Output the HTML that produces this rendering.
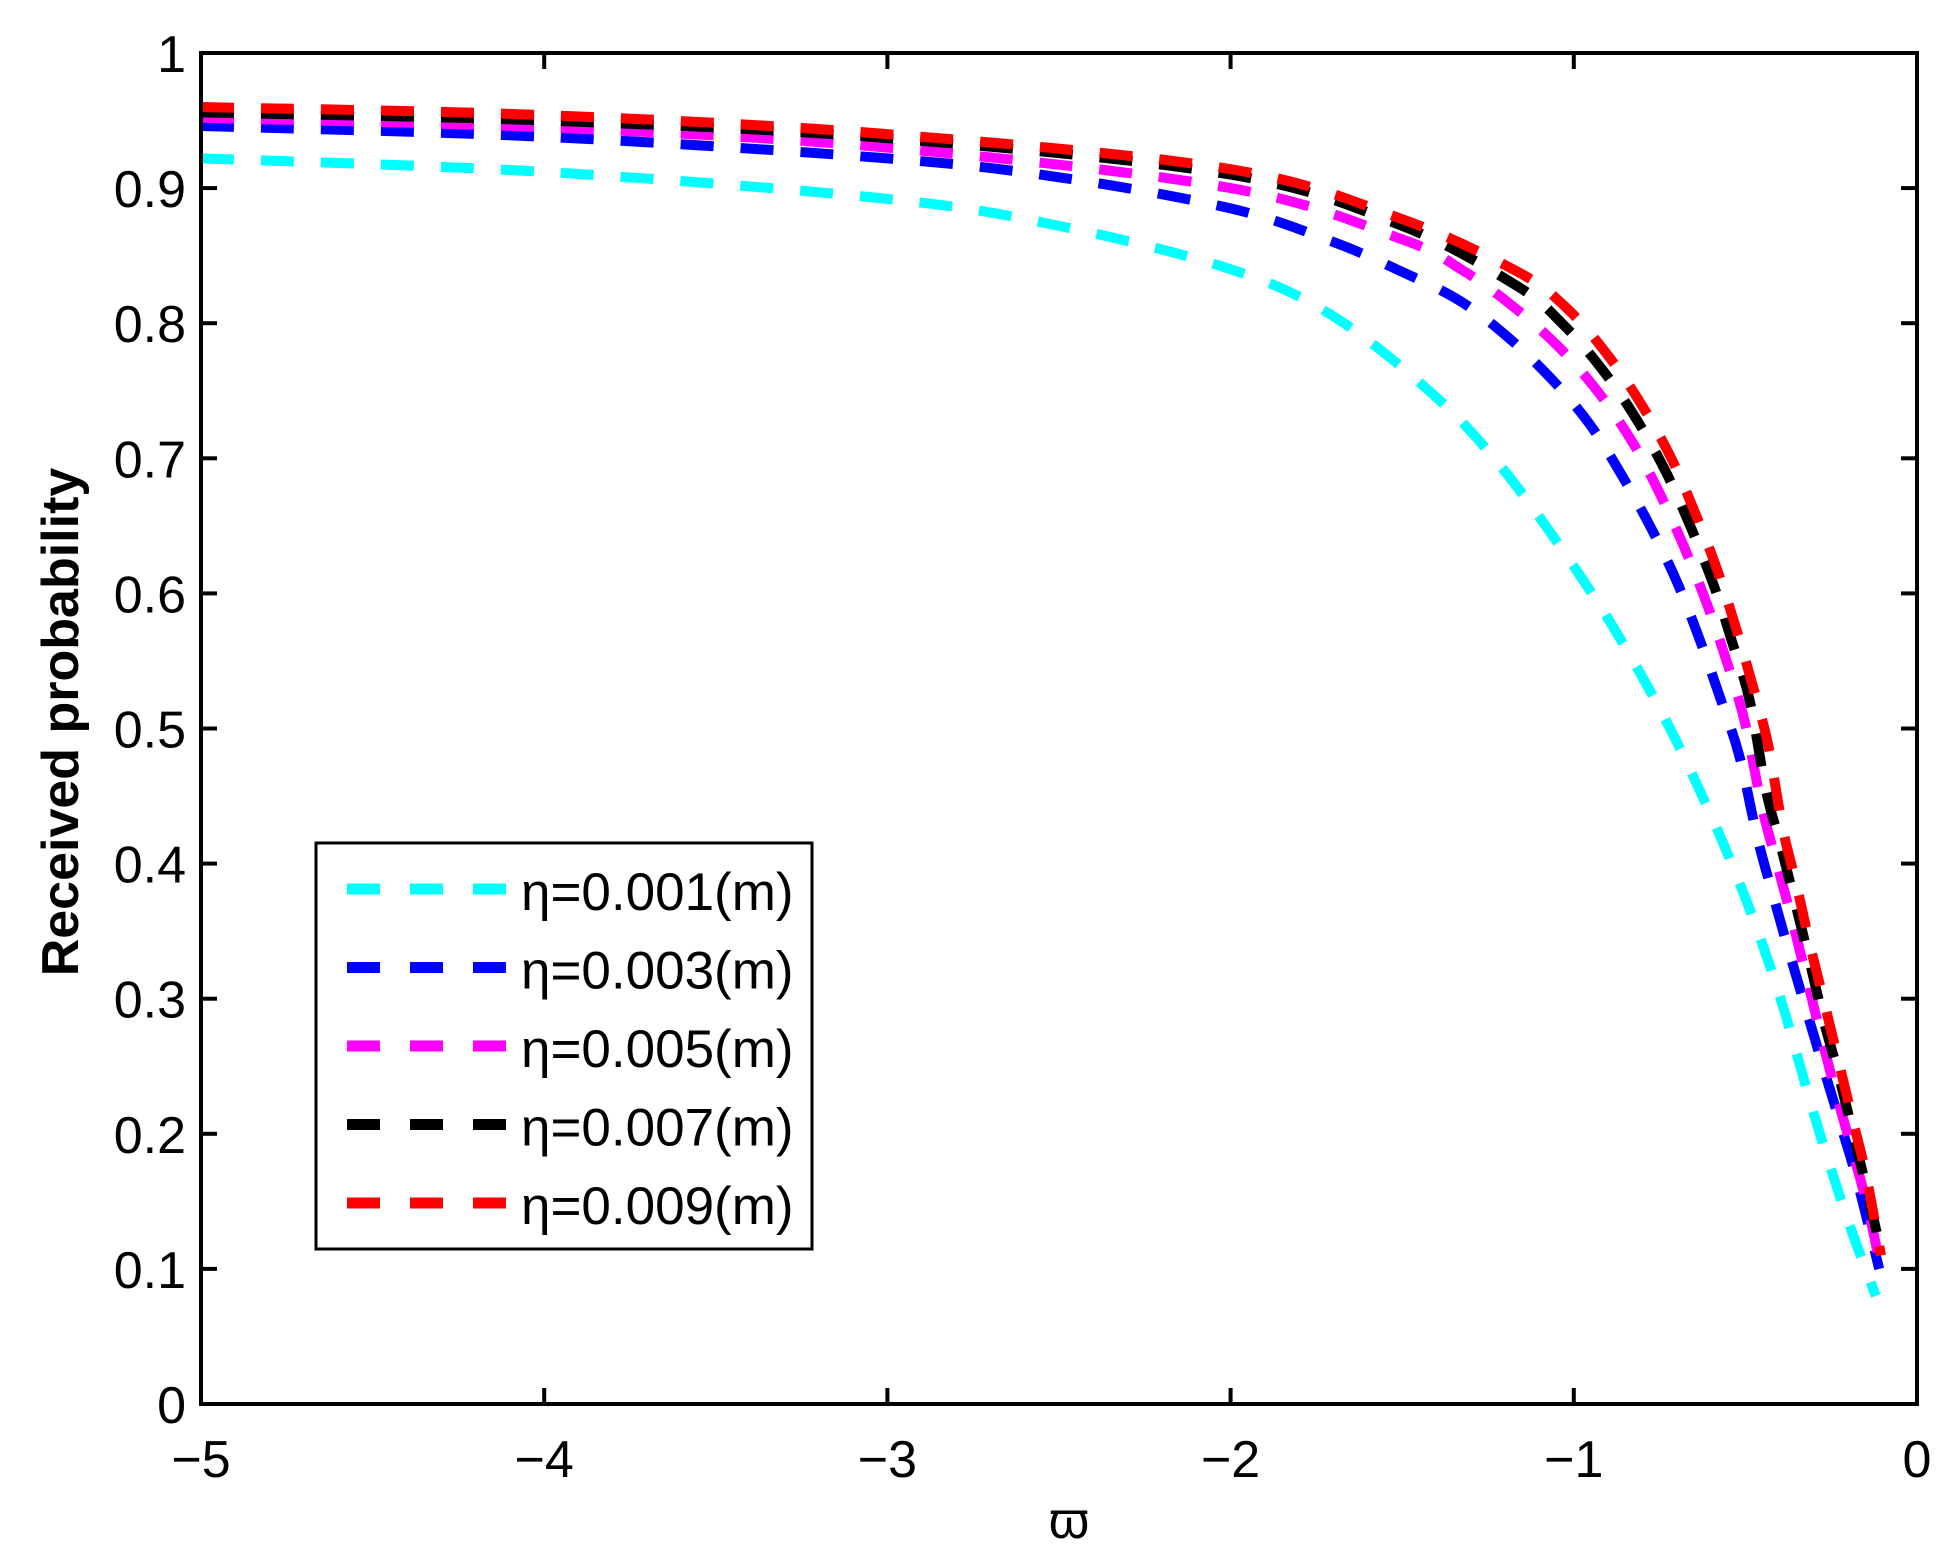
<!DOCTYPE html>
<html><head><meta charset="utf-8"><style>
html,body{margin:0;padding:0;background:#fff;}
svg{display:block;}
text{font-family:"Liberation Sans",sans-serif;fill:#000;}
</style></head><body>
<svg id="s" width="1959" height="1556" xmlns="http://www.w3.org/2000/svg">
<rect width="1959" height="1556" fill="#fff"/>
<g id="curves" fill="none" stroke-width="10" stroke-dasharray="33 27" stroke-linecap="butt"></g>
<g id="axes" stroke="#000" stroke-width="4" fill="none">
<rect x="201" y="53" width="1716" height="1351"/>
</g>
<g id="ticks" stroke="#000" stroke-width="4"></g>
<g id="labels" font-size="52"></g>
<text x="1069" y="1538" font-size="52" text-anchor="middle">ϖ</text>
<text transform="translate(78,722) rotate(-90)" font-size="52" font-weight="bold" text-anchor="middle">Received probability</text>
<g>
<rect x="316" y="843" width="496" height="406" fill="#fff" stroke="#000" stroke-width="3"/>
</g>
<g id="legend"></g>
</svg>
<script>
var NS="http://www.w3.org/2000/svg";
function px(w){return 201+(w+5)*343.2;}
function py(v){return 1404-v*1351;}
function el(t,a,p,txt){var e=document.createElementNS(NS,t);for(var k in a)e.setAttribute(k,a[k]);if(txt!==undefined)e.textContent=txt;p.appendChild(e);return e;}
var ticks=document.getElementById('ticks'),labels=document.getElementById('labels');
for(var i=0;i<=5;i++){var x=px(-5+i);
 el('line',{x1:x,y1:1404,x2:x,y2:1388},ticks);el('line',{x1:x,y1:53,x2:x,y2:69},ticks);
 el('text',{x:x,y:1477,'text-anchor':'middle'},labels,i==5?'0':'\u2212'+(5-i));}
for(var j=0;j<=10;j++){var y=py(j/10);
 el('line',{x1:201,y1:y,x2:217,y2:y},ticks);el('line',{x1:1917,y1:y,x2:1901,y2:y},ticks);
 var t=j==0?'0':(j==10?'1':'0.'+j);
 el('text',{x:186,y:y+19,'text-anchor':'end'},labels,t);}
var S=[
 ['#00ffff',[[-5,.922],[-4,.912],[-3,.892],[-2.5,.872],[-2,.84],[-1.7,.805],[-1.4,.745],[-1.2,.69],[-1.0,.62],[-0.85,.56],[-0.7,.49],[-0.54,.4],[-0.41,.31],[-0.295,.21],[-0.2,.135],[-0.12,.08]]],
 ['#0000ff',[[-5,.946],[-4,.938],[-3,.922],[-2.5,.908],[-2,.885],[-1.7,.86],[-1.5,.838],[-1.335,.817],[-1.198,.791],[-1.066,.759],[-.953,.725],[-.857,.686],[-.772,.647],[-.697,.607],[-.632,.565],[-.574,.523],[-.518,.480],[-.466,.420],[-.420,.377],[-.373,.335],[-.323,.292],[-.274,.250],[-.224,.208],[-.175,.166],[-.11,.1]]],
 ['#ff00ff',[[-5,.952],[-4,.945],[-3,.93],[-2,.9],[-1.5,.862],[-1.323,.839],[-1.18,.813],[-1.046,.783],[-.929,.749],[-.827,.711],[-.746,.672],[-.673,.631],[-.609,.590],[-.551,.547],[-.501,.504],[-.452,.442],[-.408,.400],[-.364,.358],[-.321,.315],[-.280,.273],[-.236,.230],[-.189,.188],[-.143,.145],[-.105,.1]]],
 ['#000000',[[-5,.956],[-4,.95],[-3,.937],[-2,.91],[-1.5,.872],[-1.168,.828],[-1.031,.799],[-.912,.764],[-.813,.727],[-.728,.688],[-.656,.647],[-.591,.605],[-.536,.562],[-.487,.520],[-.44,.454],[-.399,.415],[-.356,.372],[-.315,.330],[-.274,.286],[-.230,.245],[-.187,.201],[-.143,.155],[-.102,.11]]],
 ['#ff0000',[[-5,.96],[-4,.954],[-3,.94],[-2,.914],[-1.5,.877],[-1.163,.838],[-1.020,.811],[-.900,.776],[-.801,.739],[-.714,.699],[-.644,.658],[-.580,.616],[-.527,.574],[-.478,.531],[-.434,.488],[-.391,.426],[-.350,.383],[-.312,.340],[-.271,.298],[-.230,.255],[-.189,.212],[-.149,.170],[-.105,.11]]]
];
var cg=document.getElementById('curves');
function path(p){var P=p.map(function(q){return [px(q[0]),py(q[1])];});
 var d='M'+P[0][0].toFixed(1)+','+P[0][1].toFixed(1);
 for(var i=0;i<P.length-1;i++){var p0=P[Math.max(i-1,0)],p1=P[i],p2=P[i+1],p3=P[Math.min(i+2,P.length-1)];
  var c1=[p1[0]+(p2[0]-p0[0])/6,p1[1]+(p2[1]-p0[1])/6],c2=[p2[0]-(p3[0]-p1[0])/6,p2[1]-(p3[1]-p1[1])/6];
  d+=' C'+c1[0].toFixed(1)+','+c1[1].toFixed(1)+' '+c2[0].toFixed(1)+','+c2[1].toFixed(1)+' '+p2[0].toFixed(1)+','+p2[1].toFixed(1);}
 return d;}
S.forEach(function(s){el('path',{d:path(s[1]),stroke:s[0]},cg);});
var lg=document.getElementById('legend');
var names=['0.001','0.003','0.005','0.007','0.009'];
for(var k=0;k<5;k++){var y=889+k*78.5;
 el('line',{x1:347,y1:y,x2:507,y2:y,stroke:S[k][0],'stroke-width':11,'stroke-dasharray':'33 30'},lg);
 el('text',{x:521,y:y+21,'font-size':53},lg,'\u03b7='+names[k]+'(m)');}
</script>
</body></html>
